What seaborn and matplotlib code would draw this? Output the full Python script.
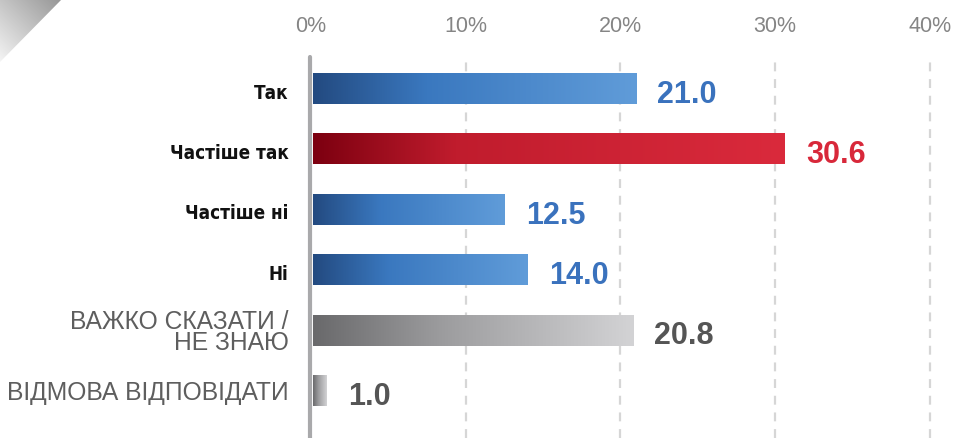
import numpy as np
import pandas as pd
import matplotlib
matplotlib.use("Agg")
import matplotlib.pyplot as plt
from matplotlib.colors import LinearSegmentedColormap
from matplotlib.patches import Polygon
import seaborn as sns

categories = ["Так", "Частіше так", "Частіше ні", "Ні", "ВАЖКО СКАЗАТИ /\nНЕ ЗНАЮ", "ВІДМОВА ВІДПОВІДАТИ"]
values = [21.0, 30.6, 12.5, 14.0, 20.8, 1.0]
groups = ["blue", "red", "blue", "blue", "gray", "gray"]
tick_values = [0, 10, 20, 30, 40]

gradients = {
    "blue": [(0, "#234a80"), (0.35, "#3a78bf"), (1, "#609cd9")],
    "red": [(0, "#7c0010"), (0.3, "#c01c2d"), (1, "#da2a3c")],
    "gray": [(0, "#69696b"), (0.4, "#9c9c9e"), (1, "#d3d3d5")],
}
label_colors = {"blue": "#3a72bd", "red": "#d8283a", "gray": "#555555"}

sns.set_theme(style="white")
plt.rcParams["font.family"] = ["Liberation Sans", "DejaVu Sans"]

df = pd.DataFrame({"cat": categories, "val": values})

fig = plt.figure(figsize=(9.56, 4.39), dpi=100)
ax = fig.add_axes([311 / 956, 0, 1 - 311 / 956, 1 - 58 / 439])
sns.barplot(data=df, x="val", y="cat", ax=ax, color="white", width=0.5, saturation=1)

for p, grp in zip(ax.patches, groups):
    x0, y0 = p.get_x(), p.get_y()
    w, h = p.get_width(), p.get_height()
    cmap = LinearSegmentedColormap.from_list(grp, gradients[grp])
    grad = np.linspace(0, 1, 256).reshape(1, -1)
    ax.imshow(grad, extent=[x0 + 0.1, x0 + w, y0 + h, y0], aspect="auto",
              cmap=cmap, zorder=3, interpolation="bicubic")
    p.set_edgecolor("none")

ax.set_xlim(0, 41.7)
ax.set_ylim(5.78, -0.53)

for t in tick_values[1:]:
    ax.axvline(t, color="#d6d6d6", lw=1.6, ls=(0, (4, 3.5)), zorder=1)
ax.axvline(-0.08, color="#a9a9ab", lw=3, zorder=4, clip_on=False)

for i, (v, grp) in enumerate(zip(values, groups)):
    ax.text(v + 1.4, i + 0.08, f"{v:.1f}", va="center", ha="left",
            fontsize=22, fontweight="bold", color=label_colors[grp])

ax.xaxis.tick_top()
ax.set_xticks(tick_values)
ax.set_xticklabels([f"{t}%" for t in tick_values], fontsize=15.5, color="#858585")
ax.tick_params(axis="x", length=0, pad=15)
ax.set_xlabel("")
ax.set_ylabel("")
ax.set_yticks(range(len(categories)))
ax.set_yticklabels([])
for s in ax.spines.values():
    s.set_visible(False)

for i, (c, grp) in enumerate(zip(categories, groups)):
    if grp == "gray":
        ax.text(-1.45, i + 0.02, c, ha="right", va="center", fontsize=17.7, color="#5e5e5e",
                linespacing=0.82, clip_on=False)
    else:
        ax.text(-1.45, i + 0.05, c, ha="right", va="center", fontsize=13.5, fontweight="bold",
                fontstretch="condensed", color="#111111", family=["DejaVu Sans"], clip_on=False)

# decorative corner triangle
cax = fig.add_axes([0, 1 - 63 / 439, 62 / 956, 63 / 439])
cax.set_axis_off()
cmap_c = LinearSegmentedColormap.from_list("corner", ["#f4f4f4", "#969696"])
yy, xx = np.mgrid[0:1:100j, 0:1:100j]
img = cax.imshow((xx + yy) / 2, extent=[0, 1, 0, 1], origin="lower", cmap=cmap_c, aspect="auto")
tri = Polygon([[0, 0], [0, 1], [1, 1]], closed=True, transform=cax.transData, facecolor="none", edgecolor="none")
cax.add_patch(tri)
img.set_clip_path(tri)
cax.set_xlim(0, 1)
cax.set_ylim(0, 1)

fig.savefig("out.png", dpi=100)
